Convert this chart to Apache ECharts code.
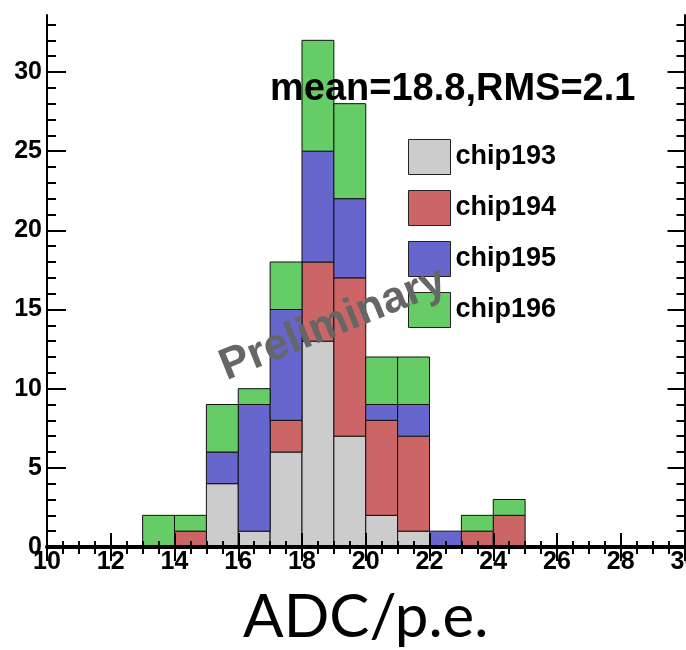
<!DOCTYPE html>
<html>
<head>
<meta charset="utf-8">
<script src="https://cdn.jsdelivr.net/npm/echarts@6/dist/echarts.min.js"></script>
<style>html,body{margin:0;padding:0;background:#fff}#c{width:686px;height:650px}</style>
</head>
<body>
<div id="c"></div>
<script>
// bin lower edges (bin width 1)
const binEdges = [13, 14, 15, 16, 17, 18, 19, 20, 21, 22, 23, 24];
const chip193 = [0, 0, 4, 1, 6, 13, 7, 2, 1, 0, 0, 0];
const chip194 = [0, 1, 0, 0, 2, 5, 10, 6, 6, 0, 1, 2];
const chip195 = [0, 0, 2, 8, 7, 7, 5, 1, 2, 1, 0, 0];
const chip196 = [2, 1, 3, 1, 3, 7, 6, 3, 3, 0, 1, 1];
const seriesNames = ['chip193', 'chip194', 'chip195', 'chip196'];
const seriesColors = ['#cccccc', '#cc6666', '#6666cc', '#66cc66'];
const yMajorTicks = [0, 5, 10, 15, 20, 25, 30];
const yMinorTicks = [0,1,2,3,4,5,6,7,8,9,10,11,12,13,14,15,16,17,18,19,20,21,22,23,24,25,26,27,28,29,30,31,32,33];
const xMin = 10, xMax = 30, yMax = 33.6;

const allSeries = [chip193, chip194, chip195, chip196];
const base = binEdges.map(() => 0);
const series = allSeries.map((vals, si) => {
  const data = [];
  vals.forEach((v, i) => {
    if (v > 0) data.push([binEdges[i], binEdges[i] + 1, base[i], base[i] + v]);
    base[i] += v;
  });
  return {
    name: seriesNames[si],
    type: 'custom',
    xAxisIndex: 0, yAxisIndex: 0,
    encode: { x: [0, 1], y: [2, 3] },
    itemStyle: { color: seriesColors[si], borderColor: '#111', borderWidth: 1 },
    renderItem: function (params, api) {
      const p0 = api.coord([api.value(0), api.value(3)]);
      const p1 = api.coord([api.value(1), api.value(2)]);
      return {
        type: 'rect',
        shape: { x: p0[0], y: p0[1], width: p1[0] - p0[0], height: p1[1] - p0[1] },
        style: { fill: seriesColors[si], stroke: '#111', lineWidth: 1 }
      };
    },
    data: data,
    z: 2
  };
});

const lbl = { fontFamily: 'Liberation Sans', fontWeight: 'bold', fontSize: 25, color: '#000' };
const chart = echarts.init(document.getElementById('c'), null, { renderer: 'canvas' });
chart.setOption({
  animation: false,
  backgroundColor: '#fff',
  grid: { left: 47, right: 1.5, top: 15, bottom: 103, containLabel: false, outerBoundsMode: 'none' },
  xAxis: [
    { type: 'value', position: 'bottom', min: xMin, max: xMax, interval: 2,
      axisLine: { show: true, lineStyle: { color: '#000', width: 4 } },
      axisTick: { show: true, inside: true, length: 14, lineStyle: { color: '#000', width: 2 } },
      minorTick: { show: true, splitNumber: 4, length: 6, lineStyle: { color: '#000', width: 2 } },
      splitLine: { show: false },
      axisLabel: Object.assign({ margin: 3, hideOverlap: false }, lbl),
      name: 'ADC/p.e.', nameLocation: 'middle', nameGap: 41,
      nameTextStyle: { fontFamily: 'Lato', fontSize: 60, color: '#000' }, z: 5 },
    { type: 'value', position: 'top', min: xMin, max: xMax, interval: 2,
      axisLine: { show: true, lineStyle: { color: '#000', width: 2 } },
      axisTick: { show: true, inside: true, length: 14, lineStyle: { color: '#000', width: 2 } },
      minorTick: { show: true, splitNumber: 4, length: 7, lineStyle: { color: '#000', width: 2 } },
      splitLine: { show: false }, axisLabel: { show: false }, z: 5 }
  ],
  yAxis: [
    { type: 'value', position: 'left', min: 0, max: yMax,
      axisLine: { show: true, lineStyle: { color: '#000', width: 2 } },
      axisTick: { show: true, inside: true, length: 19, customValues: yMajorTicks, lineStyle: { color: '#000', width: 2 } },
      splitLine: { show: false },
      axisLabel: Object.assign({ margin: 5, customValues: yMajorTicks }, lbl), z: 5 },
    { type: 'value', position: 'left', min: 0, max: yMax,
      axisLine: { show: false },
      axisTick: { show: true, inside: true, length: 9, customValues: yMinorTicks, lineStyle: { color: '#000', width: 2 } },
      splitLine: { show: false }, axisLabel: { show: false }, z: 5 },
    { type: 'value', position: 'right', min: 0, max: yMax,
      axisLine: { show: true, lineStyle: { color: '#000', width: 2 } },
      axisTick: { show: true, inside: true, length: 17, customValues: yMajorTicks, lineStyle: { color: '#000', width: 2 } },
      splitLine: { show: false }, axisLabel: { show: false }, z: 5 },
    { type: 'value', position: 'right', min: 0, max: yMax,
      axisLine: { show: false },
      axisTick: { show: true, inside: true, length: 8, customValues: yMinorTicks, lineStyle: { color: '#000', width: 2 } },
      splitLine: { show: false }, axisLabel: { show: false }, z: 5 }
  ],
  legend: {
    orient: 'vertical', left: 408, top: 139,
    itemWidth: 42, itemHeight: 35, itemGap: 15, itemTextGap: 11, padding: 0,
    icon: 'rect', selectedMode: false,
    itemStyle: { borderColor: '#222', borderWidth: 1 },
    textStyle: { fontFamily: 'Liberation Sans', fontWeight: 'bold', fontSize: 27, color: '#000' },
    data: seriesNames
  },
  graphic: [
    { type: 'text', left: 270, top: 71, z: 10,
      style: { text: 'mean=18.8,RMS=2.1', fontFamily: 'Liberation Sans', fontWeight: 'bold', fontSize: 38, fill: '#000' } },
    { type: 'text', x: 333, y: 324, rotation: 22 * Math.PI / 180, z: 10,
      style: { text: 'Preliminary', fontFamily: 'Liberation Sans', fontWeight: 'bold', fontSize: 44, fill: '#666666', align: 'center', verticalAlign: 'middle' } }
  ],
  series: series
});
</script>
</body>
</html>
